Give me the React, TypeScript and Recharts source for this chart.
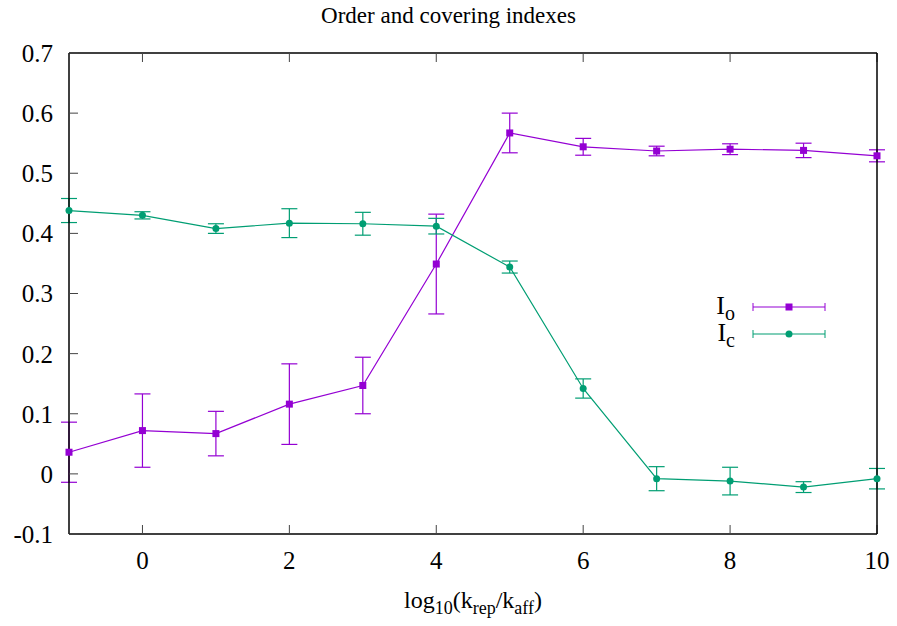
import { LineChart, Line, XAxis, YAxis, ErrorBar, Legend } from "recharts"

const xValues = [-1, 0, 1, 2, 3, 4, 5, 6, 7, 8, 9, 10]
const ioValues = [0.036, 0.072, 0.067, 0.116, 0.147, 0.349, 0.567, 0.544, 0.537, 0.54, 0.538, 0.529]
const ioErrors = [0.05, 0.061, 0.037, 0.067, 0.047, 0.083, 0.033, 0.014, 0.008, 0.009, 0.012, 0.01]
const icValues = [0.438, 0.43, 0.408, 0.417, 0.416, 0.412, 0.344, 0.142, -0.008, -0.012, -0.022, -0.008]
const icErrors = [0.02, 0.006, 0.008, 0.024, 0.019, 0.013, 0.01, 0.016, 0.02, 0.023, 0.009, 0.017]

const xTicks = [0, 2, 4, 6, 8, 10]
const yTicks = [-0.1, 0, 0.1, 0.2, 0.3, 0.4, 0.5, 0.6, 0.7]
const legendOrder = ["io", "ic"]

const PURPLE = "#9400d3"
const GREEN = "#009e73"
const FONT = "Liberation Serif"

const data = xValues.map((x, i) => ({
    x,
    io: ioValues[i],
    ioErr: ioErrors[i],
    ic: icValues[i],
    icErr: icErrors[i],
}))

const tickStyle = { fill: "#000", fontSize: 25, fontFamily: FONT }
const fmtY = (v: number) => (v === 0 ? "0" : v.toFixed(1))
const blank = () => ""

const squareDot = (p: any) => (
    <rect key={`sq-${p.index}`} x={p.cx - 3.5} y={p.cy - 3.5} width={7} height={7} fill={PURPLE} />
)
const circleDot = (p: any) => <circle key={`ci-${p.index}`} cx={p.cx} cy={p.cy} r={3.5} fill={GREEN} />

function XLabel(props: any) {
    const { x, y, width } = props.viewBox
    return (
        <text x={x + width / 2} y={y + 74} textAnchor="middle" fontFamily={FONT} fontSize={24} fill="#000">
            log
            <tspan fontSize={18} dy={6}>10</tspan>
            <tspan fontSize={24} dy={-6}>(k</tspan>
            <tspan fontSize={18} dy={6}>rep</tspan>
            <tspan fontSize={24} dy={-6}>/k</tspan>
            <tspan fontSize={18} dy={6}>aff</tspan>
            <tspan fontSize={24} dy={-6}>)</tspan>
        </text>
    )
}

function LegendBox({ payload }: any) {
    const items = [...(payload || [])].sort(
        (a: any, b: any) => legendOrder.indexOf(a.dataKey) - legendOrder.indexOf(b.dataKey)
    )
    return (
        <div style={{ fontFamily: FONT }}>
            {items.map((entry: any) => {
                const [main, sub] = String(entry.value).split("_")
                const isSquare = entry.dataKey === "io"
                return (
                    <div key={entry.value} style={{ display: "flex", alignItems: "center", height: 27 }}>
                        <span style={{ width: 35, textAlign: "right", fontSize: 26, lineHeight: "27px", color: "#000" }}>
                            {main}
                            <span style={{ fontSize: 20, position: "relative", top: 6 }}>{sub}</span>
                        </span>
                        <svg width={74} height={14} style={{ marginLeft: 17 }}>
                            <line x1={1} y1={7} x2={73} y2={7} stroke={entry.color} strokeWidth={1.2} />
                            <line x1={1} y1={3} x2={1} y2={11} stroke={entry.color} />
                            <line x1={73} y1={3} x2={73} y2={11} stroke={entry.color} />
                            {isSquare ? (
                                <rect x={33.5} y={3.5} width={7} height={7} fill={entry.color} />
                            ) : (
                                <circle cx={37} cy={7} r={3.5} fill={entry.color} />
                            )}
                        </svg>
                    </div>
                )
            })}
        </div>
    )
}

export default function App() {
    return (
        <div style={{ position: "absolute", left: 0, top: 0, width: 897, height: 626, background: "#fff" }}>
            <div
                style={{
                    position: "absolute",
                    top: 2,
                    left: 0,
                    width: 897,
                    textAlign: "center",
                    fontFamily: FONT,
                    fontSize: 23,
                    lineHeight: "28px",
                    color: "#000",
                }}
            >
                Order and covering indexes
            </div>
            <LineChart width={897} height={626} data={data} margin={{ top: 52, right: 0, bottom: 0, left: 0 }}>
                <XAxis
                    dataKey="x"
                    type="number"
                    domain={[-1, 10]}
                    ticks={xTicks}
                    height={92}
                    tickSize={-9}
                    tickMargin={26}
                    tick={tickStyle}
                    axisLine={{ stroke: "#000", strokeWidth: 1.5 }}
                    tickLine={{ stroke: "#444" }}
                    label={<XLabel />}
                />
                <XAxis
                    xAxisId="top"
                    orientation="top"
                    dataKey="x"
                    type="number"
                    domain={[-1, 10]}
                    ticks={xTicks}
                    height={1}
                    tickSize={-9}
                    tickFormatter={blank}
                    axisLine={{ stroke: "#000", strokeWidth: 1.5 }}
                    tickLine={{ stroke: "#444" }}
                />
                <YAxis
                    type="number"
                    domain={[-0.1, 0.7]}
                    ticks={yTicks}
                    width={69}
                    tickSize={-9}
                    tickMargin={25}
                    tick={tickStyle}
                    tickFormatter={fmtY}
                    axisLine={{ stroke: "#000", strokeWidth: 1.5 }}
                    tickLine={{ stroke: "#444" }}
                />
                <YAxis
                    yAxisId="right"
                    orientation="right"
                    type="number"
                    domain={[-0.1, 0.7]}
                    ticks={yTicks}
                    width={20}
                    tickSize={-9}
                    tickFormatter={blank}
                    axisLine={{ stroke: "#000", strokeWidth: 1.5 }}
                    tickLine={{ stroke: "#444" }}
                />
                <Legend
                    layout="horizontal"
                    verticalAlign="middle"
                    align="center"
                    content={<LegendBox />}
                    wrapperStyle={{ position: "absolute", left: 700, top: 293, width: 140 }}
                />
                <Line
                    dataKey="io"
                    name="I_o"
                    stroke={PURPLE}
                    strokeWidth={1.2}
                    dot={squareDot}
                    activeDot={false}
                    isAnimationActive={false}
                >
                    <ErrorBar dataKey="ioErr" direction="y" width={8} stroke={PURPLE} strokeWidth={1.2} />
                </Line>
                <Line
                    dataKey="ic"
                    name="I_c"
                    stroke={GREEN}
                    strokeWidth={1.2}
                    dot={circleDot}
                    activeDot={false}
                    isAnimationActive={false}
                >
                    <ErrorBar dataKey="icErr" direction="y" width={8} stroke={GREEN} strokeWidth={1.2} />
                </Line>
            </LineChart>
        </div>
    )
}
